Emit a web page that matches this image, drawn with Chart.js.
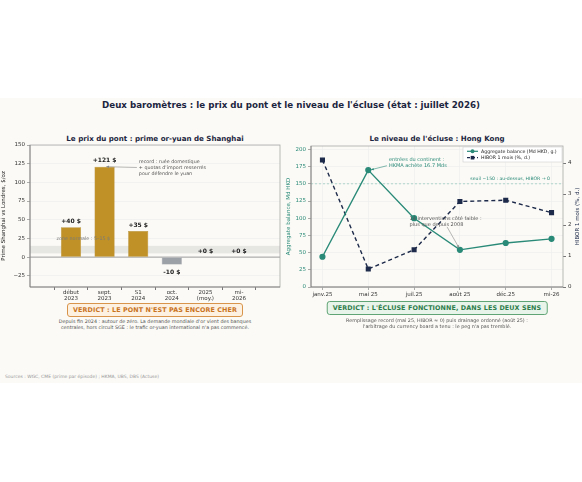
<!DOCTYPE html>
<html>
<head>
<meta charset="utf-8">
<script src="https://cdn.jsdelivr.net/npm/chart.js@4.4.1/dist/chart.umd.min.js"></script>
<style>
  body { margin: 0; width: 582px; height: 482px; background: #ffffff; font-family: "DejaVu Sans", sans-serif; overflow: hidden; position: relative; }
  #panel { position: absolute; left: 0; top: 98px; width: 582px; height: 285px; background: #fbfaf6; }
  .txt { position: absolute; white-space: nowrap; }
  .center { transform: translateX(-50%); text-align: center; }
  #title { left: 291px; top: 100px; font-size: 8.7px; font-weight: bold; color: #1b2540; }
  .sub { top: 134px; font-size: 7.1px; font-weight: bold; color: #1b2540; }
  .verdict { font-size: 6.4px; font-weight: bold; letter-spacing: 0.1px; padding: 2px 5px; border-radius: 3px; }
  #vleft { left: 155px; top: 302.5px; color: #c9741f; border: 1px solid #d8944a; background: #fdf1e2; }
  #vright { left: 437px; top: 301px; color: #2e7d4a; border: 1px solid #5fa475; background: #e8f4ea; }
  .note { font-size: 4.85px; color: #555; line-height: 6.4px; }
  #sources { left: 5px; top: 374px; font-size: 4.5px; color: #999; }
  canvas { position: absolute; }
</style>
</head>
<body>
<div id="panel"></div>
<div class="txt center" id="title">Deux baromètres : le prix du pont et le niveau de l'écluse (état : juillet 2026)</div>
<div class="txt center sub" style="left:155px">Le prix du pont : prime or-yuan de Shanghai</div>
<div class="txt center sub" style="left:437px">Le niveau de l'écluse : Hong Kong</div>

<div id="leftWrap" style="position:absolute;left:0;top:130px;width:290px;height:180px"><canvas id="bridge"></canvas></div>
<div id="rightWrap" style="position:absolute;left:285px;top:130px;width:297px;height:180px"><canvas id="lock"></canvas></div>

<div class="txt center verdict" id="vleft">VERDICT : LE PONT N'EST PAS ENCORE CHER</div>
<div class="txt center verdict" id="vright">VERDICT : L'ÉCLUSE FONCTIONNE, DANS LES DEUX SENS</div>
<div class="txt center note" style="left:155px;top:318px">Depuis fin 2024 : autour de zéro. La demande mondiale d'or vient des banques<br>centrales, hors circuit SGE : le trafic or-yuan international n'a pas commencé.</div>
<div class="txt center note" style="left:437px;top:316.5px">Remplissage record (mai 25, HIBOR ≈ 0) puis drainage ordonné (août 25) :<br>l'arbitrage du currency board a tenu : le peg n'a pas tremblé.</div>
<div class="txt" id="sources">Sources : WGC, CME (prime par épisode) ; HKMA, UBS, DBS (Actuse)</div>

<script>
// ---- data: left panel (Shanghai premium, $/oz)
const bridgeLabels = [['début', '2023'], ['sept.', '2023'], ['S1', '2024'], ['oct.', '2024'], ['2025', '(moy.)'], ['mi-', '2026']];
const bridgePremium = [40, 121, 35, -10, 0, 0];
const bridgeYTicks = [-25, 0, 25, 50, 75, 100, 125, 150];
const normalZone = [5, 15];

// ---- data: right panel (Hong Kong)
const lockLabels = ['janv.25', 'mai 25', 'juil.25', 'août 25', 'déc.25', 'mi-26'];
const aggregateBalance = [44, 170, 100, 54, 64, 70];
const hibor1m = [4.1, 0.58, 1.2, 2.76, 2.8, 2.4];
const lockYTicks = [0, 25, 50, 75, 100, 125, 150, 175, 200];
const hiborTicks = [0, 1, 2, 3, 4];
const lockThreshold = 150;

const FONT = 'DejaVu Sans';
const GOLD = '#bf9126';
const GREY_BAR = '#9ca1a8';
const TEAL = '#2a8a78';
const NAVY = '#1d2a4a';

Chart.defaults.font.family = FONT;
Chart.defaults.animation = false;

function arrowLine(ctx, x1, y1, x2, y2, color) {
  ctx.save();
  ctx.strokeStyle = color;
  ctx.fillStyle = color;
  ctx.lineWidth = 0.6;
  ctx.beginPath();
  ctx.moveTo(x1, y1);
  ctx.lineTo(x2, y2);
  ctx.stroke();
  const a = Math.atan2(y2 - y1, x2 - x1);
  ctx.beginPath();
  ctx.moveTo(x2, y2);
  ctx.lineTo(x2 - 3 * Math.cos(a - 0.4), y2 - 3 * Math.sin(a - 0.4));
  ctx.lineTo(x2 - 3 * Math.cos(a + 0.4), y2 - 3 * Math.sin(a + 0.4));
  ctx.closePath();
  ctx.fill();
  ctx.restore();
}

function frame(chart) {
  const { ctx, chartArea: { left, right, top, bottom } } = chart;
  ctx.save();
  ctx.lineWidth = 0.8;
  ctx.strokeStyle = '#a8a8a8';
  ctx.strokeRect(left, top, right - left, bottom - top);
  ctx.strokeStyle = '#777';
  ctx.beginPath();
  ctx.moveTo(left, top);
  ctx.lineTo(left, bottom);
  ctx.lineTo(right, bottom);
  ctx.stroke();
  ctx.restore();
}

// ---------------- left chart
const bridgeBackground = {
  id: 'bridgeBackground',
  beforeDatasetsDraw(chart) {
    const { ctx, chartArea: { left, right }, scales: { y } } = chart;
    ctx.save();
    const yTop = y.getPixelForValue(normalZone[1]);
    const yBot = y.getPixelForValue(normalZone[0]);
    ctx.fillStyle = 'rgba(200,200,200,0.4)';
    ctx.fillRect(left, yTop, right - left, yBot - yTop);
    ctx.strokeStyle = '#8a8a8a';
    ctx.lineWidth = 0.8;
    ctx.beginPath();
    ctx.moveTo(left, y.getPixelForValue(0));
    ctx.lineTo(right, y.getPixelForValue(0));
    ctx.stroke();
    ctx.restore();
  }
};

const bridgeLabelsPlugin = {
  id: 'bridgeLabelsPlugin',
  afterDatasetsDraw(chart) {
    const { ctx, scales: { x, y } } = chart;
    const meta = chart.getDatasetMeta(0);
    ctx.save();
    ctx.fillStyle = '#7a7a7a';
    ctx.font = '4.8px ' + FONT;
    ctx.textBaseline = 'middle';
    ctx.fillText('zone normale : 5–15 $', x.getPixelForValue(-0.43), y.getPixelForValue(24));

    ctx.font = 'bold 6px ' + FONT;
    ctx.fillStyle = '#222';
    ctx.textAlign = 'center';
    meta.data.forEach((bar, i) => {
      const v = bridgePremium[i];
      const txt = (v < 0 ? '-' + Math.abs(v) : '+' + v) + ' $';
      const py = v < 0 ? bar.y + 8 : Math.min(bar.y, bar.base) - 6;
      ctx.fillText(txt, bar.x, py);
    });
    // annotation on the record
    ctx.font = '4.8px ' + FONT;
    ctx.fillStyle = '#555';
    ctx.textAlign = 'left';
    const tx = x.getPixelForValue(2.02);
    const ty = y.getPixelForValue(127);
    ['record : ruée domestique', '+ quotas d\'import resserrés', 'pour défendre le yuan'].forEach((l, k) => {
      ctx.fillText(l, tx, ty + k * 5.8);
    });
    arrowLine(ctx, tx - 2, ty + 5.3, x.getPixelForValue(1.05), y.getPixelForValue(121), '#888');
    ctx.restore();
    frame(chart);
  }
};

new Chart(document.getElementById('bridge'), {
  type: 'bar',
  data: {
    datasets: [{
      data: bridgePremium.map((v, i) => ({ x: i, y: v })),
      backgroundColor: bridgePremium.map(v => v < 0 ? GREY_BAR : GOLD),
      borderColor: bridgePremium.map(v => v < 0 ? '#8d9299' : '#a87e1c'),
      borderWidth: 0.5,
      barPercentage: 0.6,
      categoryPercentage: 1
    }]
  },
  options: {
    responsive: true,
    maintainAspectRatio: false,
    layout: { padding: { top: 15, right: 10, left: 0, bottom: 0 } },
    plugins: { legend: { display: false }, tooltip: { enabled: false } },
    scales: {
      x: {
        type: 'linear',
        min: -0.6,
        max: 5.6,
        afterBuildTicks: s => { s.ticks = bridgeLabels.map((_, i) => ({ value: i })); },
        afterFit: s => { s.height = 23; },
        ticks: { callback: v => bridgeLabels[v], color: '#333', font: { size: 5.5, lineHeight: 1.1 }, padding: 0, maxRotation: 0, autoSkip: false },
        grid: { drawOnChartArea: false, tickLength: 3, color: '#777' },
        border: { display: false }
      },
      y: {
        min: -40,
        max: 150,
        afterBuildTicks: s => { s.ticks = bridgeYTicks.map(v => ({ value: v })); },
        afterFit: s => { s.width = 30; },
        ticks: { color: '#333', font: { size: 5.5 }, padding: 2, callback: v => v < 0 ? '−' + Math.abs(v) : v },
        grid: { color: '#ececec', lineWidth: 0.6, tickLength: 3, tickColor: '#777' },
        border: { display: false },
        title: { display: true, text: 'Prime Shanghai vs Londres, $/oz', color: '#222', font: { size: 5.5 }, padding: { top: 0, bottom: 1 } }
      }
    }
  },
  plugins: [bridgeBackground, bridgeLabelsPlugin]
});

// ---------------- right chart
const lockDecor = {
  id: 'lockDecor',
  beforeDatasetsDraw(chart) {
    const { ctx, chartArea: { left, right }, scales: { y } } = chart;
    const ly = y.getPixelForValue(lockThreshold);
    ctx.save();
    ctx.strokeStyle = '#93c9bd';
    ctx.lineWidth = 0.7;
    ctx.setLineDash([2, 2]);
    ctx.beginPath();
    ctx.moveTo(left, ly);
    ctx.lineTo(right, ly);
    ctx.stroke();
    ctx.setLineDash([]);
    ctx.font = '4.6px ' + FONT;
    ctx.fillStyle = TEAL;
    ctx.textAlign = 'right';
    ctx.textBaseline = 'middle';
    ctx.fillText('seuil ~150 : au-dessus, HIBOR → 0', right - 13, ly - 5);
    ctx.restore();
  },
  afterDatasetsDraw(chart) {
    const { ctx, chartArea: { right, top, bottom }, scales: { x, y } } = chart;
    ctx.save();
    ctx.textBaseline = 'middle';
    ctx.font = '5px ' + FONT;
    // annotation: inflows
    ctx.fillStyle = TEAL;
    ctx.textAlign = 'left';
    const ax = x.getPixelForValue(1.45);
    const ay = y.getPixelForValue(185);
    ctx.fillText('entrées du continent :', ax, ay);
    ctx.fillText('HKMA achète 16.7 Mds', ax, ay + 5.8);
    arrowLine(ctx, ax - 2, ay + 6, x.getPixelForValue(1.06), y.getPixelForValue(170.5), TEAL);
    // annotation: interventions
    ctx.fillStyle = '#555';
    const bx = x.getPixelForValue(1.9);
    const by = y.getPixelForValue(99);
    ctx.fillText('14 interventions côté faible :', bx, by);
    ctx.fillText('plus que depuis 2008', bx, by + 5.8);
    arrowLine(ctx, x.getPixelForValue(2.72), by + 8, x.getPixelForValue(2.98), y.getPixelForValue(57), '#888');
    ctx.restore();
    frame(chart);

    // right axis title, reading bottom to top
    ctx.save();
    ctx.translate(chart.width - 4, (top + bottom) / 2);
    ctx.rotate(-Math.PI / 2);
    ctx.font = '5.5px ' + FONT;
    ctx.fillStyle = NAVY;
    ctx.textAlign = 'center';
    ctx.textBaseline = 'middle';
    ctx.fillText('HIBOR 1 mois (%, d.)', 0, 0);
    ctx.restore();

    // legend box
    ctx.save();
    const lx = right - 100, lyy = top + 1;
    ctx.fillStyle = 'rgba(255,255,255,0.92)';
    ctx.strokeStyle = '#cfcfcf';
    ctx.lineWidth = 0.6;
    ctx.fillRect(lx, lyy, 99, 15);
    ctx.strokeRect(lx, lyy, 99, 15);
    ctx.font = '4.7px ' + FONT;
    ctx.textBaseline = 'middle';
    const rows = [
      { text: 'Aggregate balance (Md HKD, g.)', color: TEAL, dash: [], marker: 'circle' },
      { text: 'HIBOR 1 mois (%, d.)', color: NAVY, dash: [3, 2], marker: 'rect' }
    ];
    rows.forEach((r, k) => {
      const ry = lyy + 4.3 + k * 6.4;
      ctx.strokeStyle = r.color;
      ctx.lineWidth = 1.2;
      ctx.setLineDash(r.dash);
      ctx.beginPath();
      ctx.moveTo(lx + 4, ry);
      ctx.lineTo(lx + 15, ry);
      ctx.stroke();
      ctx.setLineDash([]);
      ctx.fillStyle = r.color;
      if (r.marker === 'circle') {
        ctx.beginPath();
        ctx.arc(lx + 9.5, ry, 2, 0, Math.PI * 2);
        ctx.fill();
      } else {
        ctx.fillRect(lx + 7.7, ry - 1.8, 3.6, 3.6);
      }
      ctx.fillStyle = '#222';
      ctx.fillText(r.text, lx + 18, ry);
    });
    ctx.restore();
  }
};

new Chart(document.getElementById('lock'), {
  type: 'line',
  data: {
    datasets: [{
      label: 'Aggregate balance (Md HKD, g.)',
      data: aggregateBalance.map((v, i) => ({ x: i, y: v })),
      yAxisID: 'y',
      borderColor: TEAL,
      backgroundColor: TEAL,
      borderWidth: 1.4,
      pointRadius: 2.4,
      pointStyle: 'circle',
      tension: 0
    }, {
      label: 'HIBOR 1 mois (%, d.)',
      data: hibor1m.map((v, i) => ({ x: i, y: v })),
      yAxisID: 'y1',
      borderColor: NAVY,
      backgroundColor: NAVY,
      borderWidth: 1.4,
      borderDash: [4, 3],
      pointRadius: 2.6,
      pointStyle: 'rect',
      tension: 0
    }]
  },
  options: {
    responsive: true,
    maintainAspectRatio: false,
    layout: { padding: { top: 16, right: 0, left: 0, bottom: 0 } },
    plugins: { legend: { display: false }, tooltip: { enabled: false } },
    scales: {
      x: {
        type: 'linear',
        min: -0.25,
        max: 5.25,
        afterBuildTicks: s => { s.ticks = lockLabels.map((_, i) => ({ value: i })); },
        afterFit: s => { s.height = 23; },
        ticks: { callback: v => lockLabels[v], color: '#333', font: { size: 5.5 }, padding: 1, maxRotation: 0, autoSkip: false },
        grid: { color: '#ececec', lineWidth: 0.6, tickLength: 3, tickColor: '#777' },
        border: { display: false }
      },
      y: {
        position: 'left',
        min: 0,
        max: 205,
        afterBuildTicks: s => { s.ticks = lockYTicks.map(v => ({ value: v })); },
        afterFit: s => { s.width = 26; },
        ticks: { color: TEAL, font: { size: 5.5 }, padding: 2 },
        grid: { color: '#ececec', lineWidth: 0.6, tickLength: 3, tickColor: '#777' },
        border: { display: false },
        title: { display: true, text: 'Aggregate balance, Md HKD', color: TEAL, font: { size: 5.5 }, padding: 0 }
      },
      y1: {
        position: 'right',
        min: 0,
        max: 4.55,
        afterBuildTicks: s => { s.ticks = hiborTicks.map(v => ({ value: v })); },
        afterFit: s => { s.width = 19; },
        ticks: { color: '#333', font: { size: 5.5 }, padding: 2 },
        grid: { drawOnChartArea: false, tickLength: 3, color: '#777' },
        border: { display: false }
      }
    }
  },
  plugins: [lockDecor]
});
</script>
</body>
</html>
